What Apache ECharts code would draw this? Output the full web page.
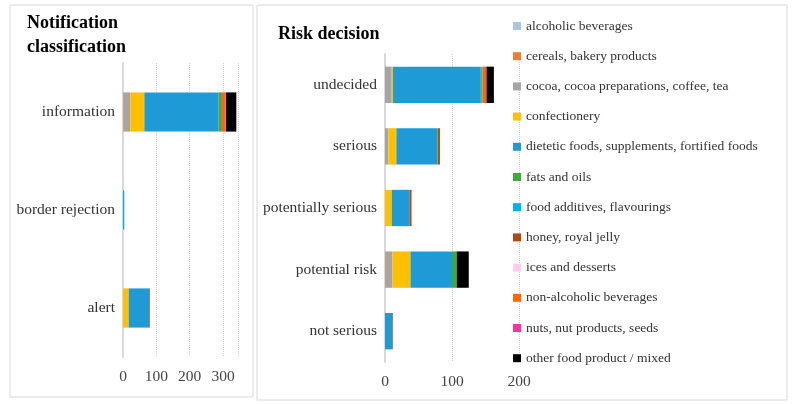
<!DOCTYPE html><html><head><meta charset="utf-8">
<script src="https://cdn.jsdelivr.net/npm/echarts@6/dist/echarts.min.js"></script>
<style>html,body{margin:0;padding:0;background:#fff}#c{width:792px;height:404px}</style></head><body><div id="c"></div>
<script>
const seriesNames=["alcoholic beverages","cereals, bakery products","cocoa, cocoa preparations, coffee, tea","confectionery","dietetic foods, supplements, fortified foods","fats and oils","food additives, flavourings","honey, royal jelly","ices and desserts","non-alcoholic beverages","nuts, nut products, seeds","other food product / mixed"];
const colors=["#A9C4E6","#ED7D31","#A5A5A5","#FFC000","#1E9BD7","#3DAA3D","#00B0F0","#B5470C","#FFCCEE","#FF6600","#FF3399","#000000"];
const notifCats=["alert","border rejection","information"];
const riskCats=["not serious","potential risk","potentially serious","serious","undecided"];
const notifTicks=[0,100,200,300];
const riskTicks=[0,100,200];
// per series: values for notifCats
const notifVals=[
 [0,0,0],[0,0,2],[0,0,20],[17,0,42],[62,0,223],[0,0,8],[0,4,0],[2,0,2],[0,0,0],[0,0,11],[0,0,1],[0,0,31]];
// per series: values for riskCats
const riskVals=[
 [0,0,0,0,0],[0,1,0,0,0],[0,10,0,5,10],[0,27,10,12,2],[11,62,27,61,131],[0,7,0,1,1.5],[0,0,0,0,1],[1,0,2,3,0],[0,0,0,0,0],[0,0,1,0,6],[0,0,0,0,0],[0,18,0,0,11]];
const F="Liberation Serif";
const series=[];
seriesNames.forEach((n,i)=>{
 series.push({name:n,type:'bar',stack:'a',xAxisIndex:0,yAxisIndex:0,data:notifVals[i],itemStyle:{color:colors[i]},barCategoryGap:'60%'});
 series.push({name:n,type:'bar',stack:'b',xAxisIndex:1,yAxisIndex:1,data:riskVals[i],itemStyle:{color:colors[i]},barCategoryGap:'41%'});
});
const xa=(max,gi,showMax)=>({type:'value',gridIndex:gi,min:0,max:max,interval:100,axisLabel:{showMaxLabel:showMax,fontFamily:F,fontSize:15.5,color:'#444',margin:12},splitLine:{lineStyle:{type:'dotted',color:'#d0d0d0'}},axisLine:{show:false},axisTick:{show:false}});
const ya=(d,gi)=>({type:'category',gridIndex:gi,data:d,axisLabel:{fontFamily:F,fontSize:15.5,color:'#333',margin:8},axisLine:{lineStyle:{color:'#d9d9d9',width:2}},axisTick:{show:false}});
const chart=echarts.init(document.getElementById('c'));
chart.setOption({
 animation:false,
 graphic:[
  {type:'rect',shape:{x:10,y:5,width:243,height:392},style:{fill:'none',stroke:'#d9d9d9'}},
  {type:'rect',shape:{x:257,y:5,width:530,height:395},style:{fill:'none',stroke:'#d9d9d9'}},
  {type:'text',left:27,top:11,style:{text:'Notification\nclassification',font:'bold 18px "Liberation Serif"',lineHeight:24,fill:'#000'}},
  {type:'text',left:278,top:25,style:{text:'Risk decision',font:'bold 18px "Liberation Serif"',fill:'#000'}}
 ],
 legend:{orient:'vertical',left:508,top:14,itemWidth:8,itemHeight:8,itemGap:16.2,icon:'rect',textStyle:{fontFamily:F,fontSize:13.5,color:'#333'},data:seriesNames},
 grid:[{left:123,right:554,top:63,bottom:47},{left:385,right:273,top:54,bottom:42}],
 xAxis:[xa(345,0,false),xa(200,1,true)],
 yAxis:[ya(notifCats,0),ya(riskCats,1)],
 series:series
});
</script></body></html>
